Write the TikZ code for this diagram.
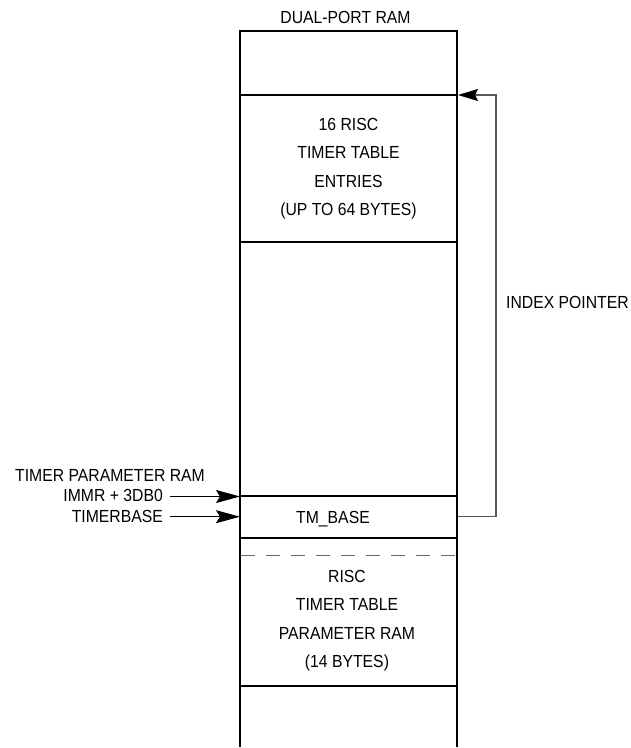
\documentclass[tikz,border=0pt]{standalone}
\usepackage{fontspec}
\setmainfont{Liberation Sans}[FakeStretch=0.9]
\usetikzlibrary{arrows.meta}
\begin{document}
\begin{tikzpicture}[x=1pt,y=-1pt,
  txt/.style={inner sep=0pt, font=\fontsize{17.5}{28.5}\selectfont, align=center},
  wall/.style={line width=2pt, line cap=rect},
  sep/.style={line width=2pt},
  dsep/.style={line width=1pt, gray!80!black, dash pattern=on 14pt off 11pt},
  ptr/.style={line width=1.1pt, gray!70!black, -{Stealth[length=20pt,width=12pt,inset=3pt,black]}},
  inarrow/.style={line width=1pt, black, -{Stealth[length=24pt,width=13pt,inset=4pt]}}]
\useasboundingbox (0,0) rectangle (631,748);
% memory column
\draw[wall] (240,746) -- (240,31) -- (457,31) -- (457,746);
\coordinate (L95) at (240,95);   \coordinate (R95) at (457,95);
\coordinate (L242) at (240,242); \coordinate (R242) at (457,242);
\coordinate (L496) at (240,496); \coordinate (R496) at (457,496);
\coordinate (L538) at (240,538); \coordinate (R538) at (457,538);
\coordinate (L686) at (240,686); \coordinate (R686) at (457,686);
\draw[sep] (L95) -- (R95);
\draw[sep] (L242) -- (R242);
\draw[sep] (L496) -- (R496);
\draw[sep] (L538) -- (R538);
\draw[dsep] (241,555.5) -- (456,555.5);
\draw[sep] (L686) -- (R686);
% texts
\node[txt] (title) at (345.5,17) {DUAL-PORT RAM};
\node[txt] (entries) at (348.5,168.5) {16 RISC\\TIMER TABLE\\ENTRIES\\(UP TO 64 BYTES)};
\node[txt] (tmbase) at (333,519) {TM\_BASE};
\node[txt] (param) at (347,620.5) {RISC\\TIMER TABLE\\PARAMETER RAM\\(14 BYTES)};
\node[txt, anchor=east] (tpram) at (205,475) {TIMER PARAMETER RAM};
\node[txt, anchor=east] (immr) at (163,495.5) {IMMR + 3DB0};
\node[txt, anchor=east] (tbase) at (163,516.5) {TIMERBASE};
\node[txt] (idx) at (567.5,302) {INDEX POINTER};
% input arrows
\coordinate (a1) at (240,496.5);
\coordinate (a2) at (240,516.7);
\draw[inarrow] (immr.east |- a1) ++(7,0) -- (a1);
\draw[inarrow] (tbase.east |- a2) ++(7,0) -- (a2);
% index pointer
\coordinate (p0) at (458,516.7);
\coordinate (p1) at (496,516.7);
\coordinate (p2) at (496,95);
\coordinate (p3) at (458,95);
\draw[ptr] (p0) -- (p1) -- (p2) -- (p3);
\end{tikzpicture}
\end{document}
